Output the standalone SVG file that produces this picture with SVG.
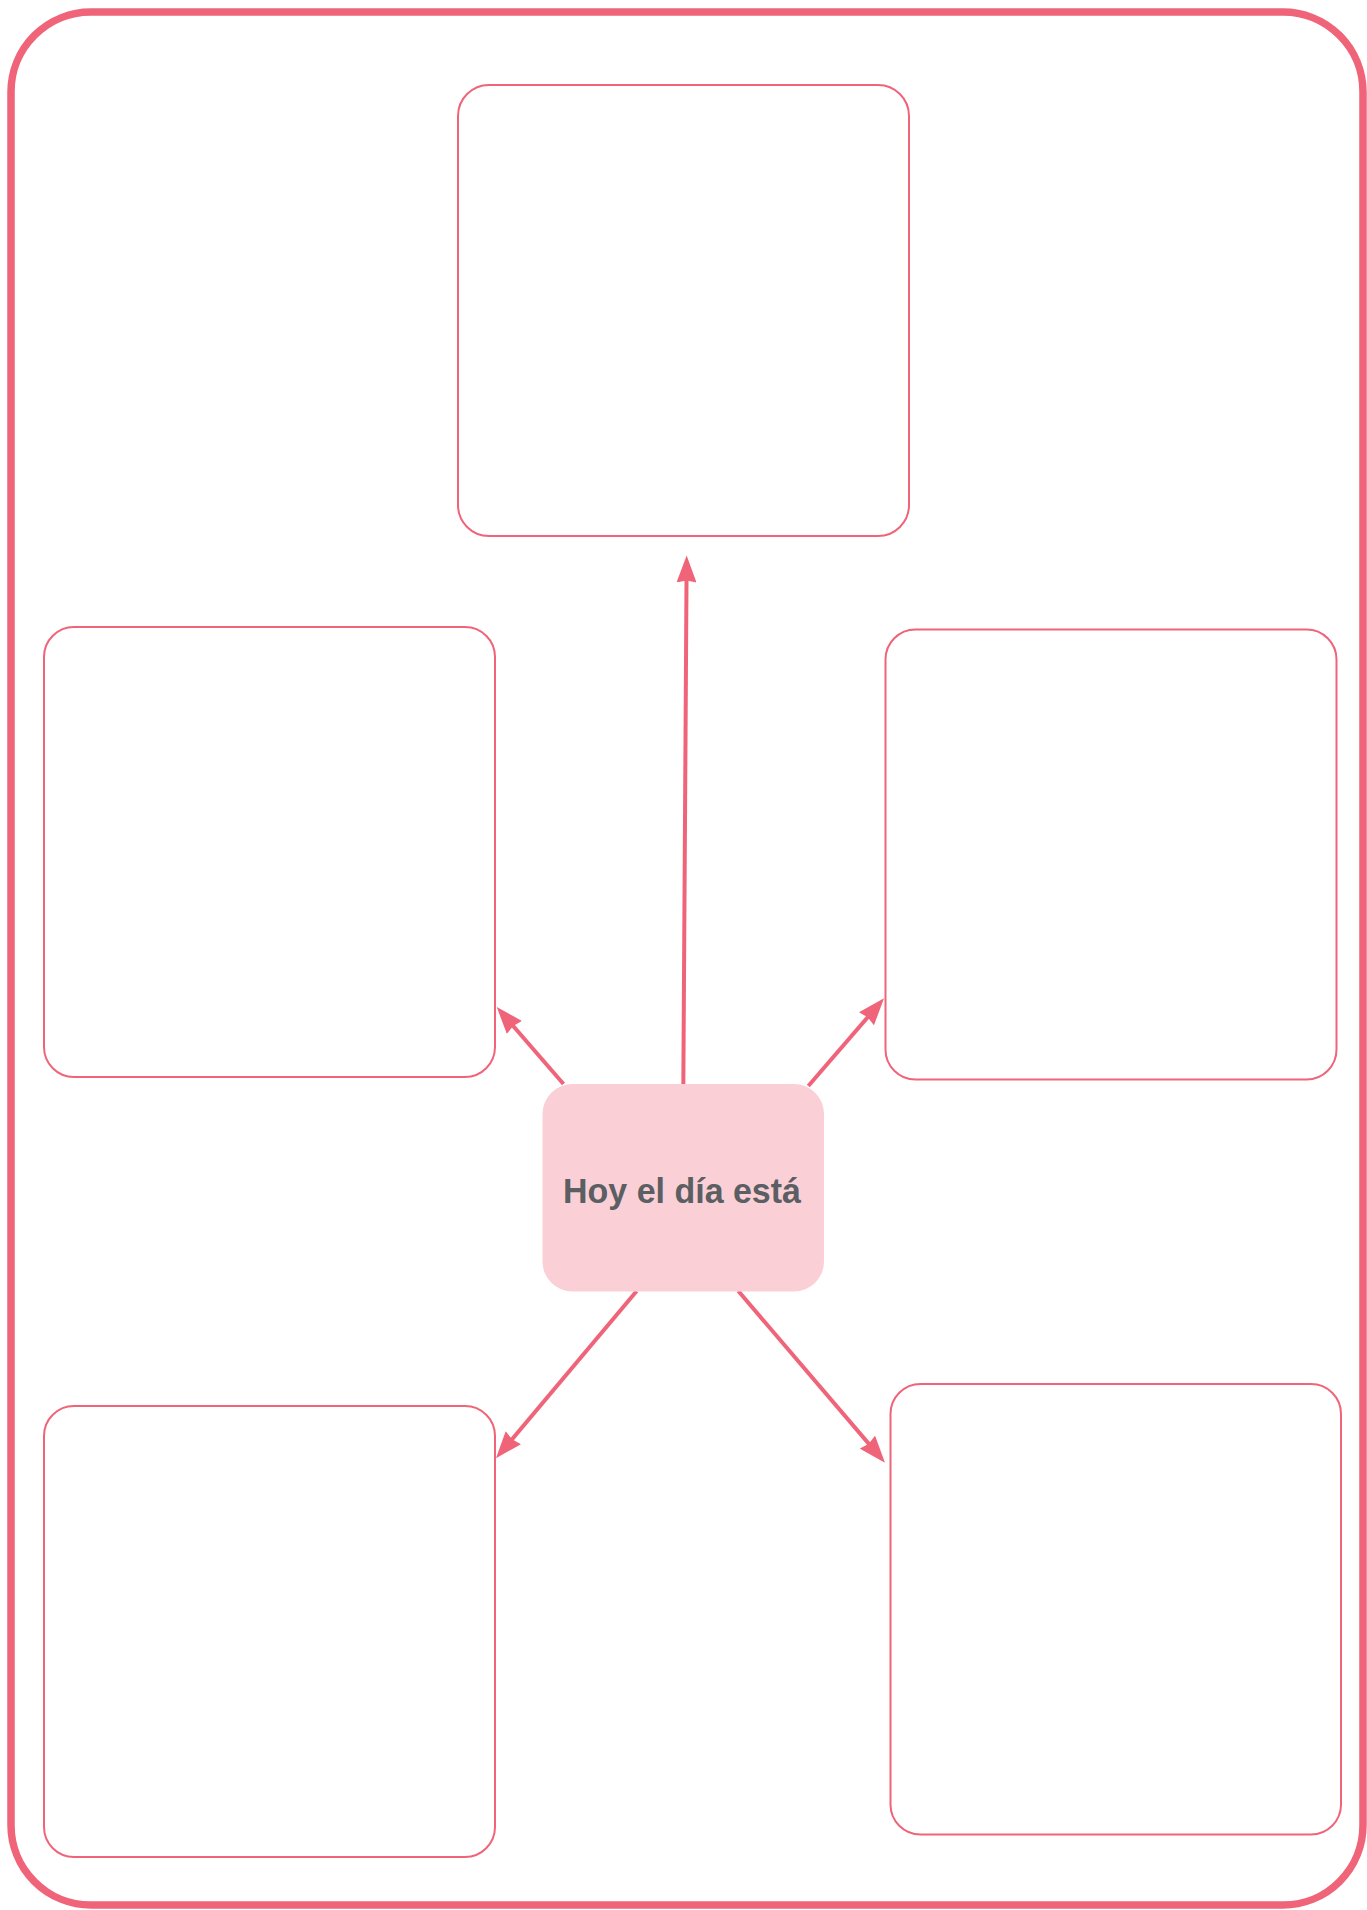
<svg xmlns="http://www.w3.org/2000/svg" width="1367" height="1910" viewBox="0 0 1367 1910">
  <style>
    .box { fill: #ffffff; stroke: #F06479; stroke-width: 2; }
    .frame { fill: #ffffff; stroke: #F06479; stroke-width: 7.5; }
    .conn { stroke: #F06479; stroke-width: 4; fill: none; marker-end: url(#arrow); }
    .center { fill: #FAD0D6; }
    .label { font-family: "Liberation Sans", Arial, sans-serif; font-weight: bold; font-size: 35px; fill: #5B5E62; }
  </style>
  <defs>
    <marker id="arrow" viewBox="0 0 27 20" refX="17" refY="10" markerWidth="27" markerHeight="20" markerUnits="userSpaceOnUse" orient="auto">
      <path d="M0,0 L27,10 L0,20 L2,10 z" fill="#F06479"/>
    </marker>
  </defs>
  <rect class="frame" x="11" y="12" width="1352" height="1893" rx="80" ry="80"/>
  <g id="node-top"><rect class="box" x="458" y="85" width="451" height="451" rx="31" ry="31"/></g>
  <g id="node-left-middle"><rect class="box" x="44" y="627" width="451" height="450" rx="30" ry="30"/></g>
  <g id="node-right-middle"><rect class="box" x="885.5" y="629.5" width="451" height="450" rx="30" ry="30"/></g>
  <g id="node-bottom-left"><rect class="box" x="44" y="1406" width="451" height="451" rx="30" ry="30"/></g>
  <g id="node-bottom-right"><rect class="box" x="890.5" y="1384" width="450.5" height="450.5" rx="30" ry="30"/></g>
  <g id="connectors">
    <line class="conn" x1="683.3" y1="1090" x2="686.6" y2="565.5"/>
    <line class="conn" x1="563.5" y1="1084" x2="503.3" y2="1014.6"/>
    <line class="conn" x1="808.3" y1="1086" x2="877.5" y2="1005.9"/>
    <line class="conn" x1="636.7" y1="1291" x2="502.4" y2="1450.7"/>
    <line class="conn" x1="738.3" y1="1291" x2="878.5" y2="1455.1"/>
  </g>
  <g id="node-center">
    <rect class="center" x="542.5" y="1084" width="281.5" height="207.5" rx="30" ry="30"/>
    <text class="label" x="682" y="1202.5" text-anchor="middle" textLength="238" lengthAdjust="spacingAndGlyphs">Hoy el día está</text>
  </g>
</svg>
